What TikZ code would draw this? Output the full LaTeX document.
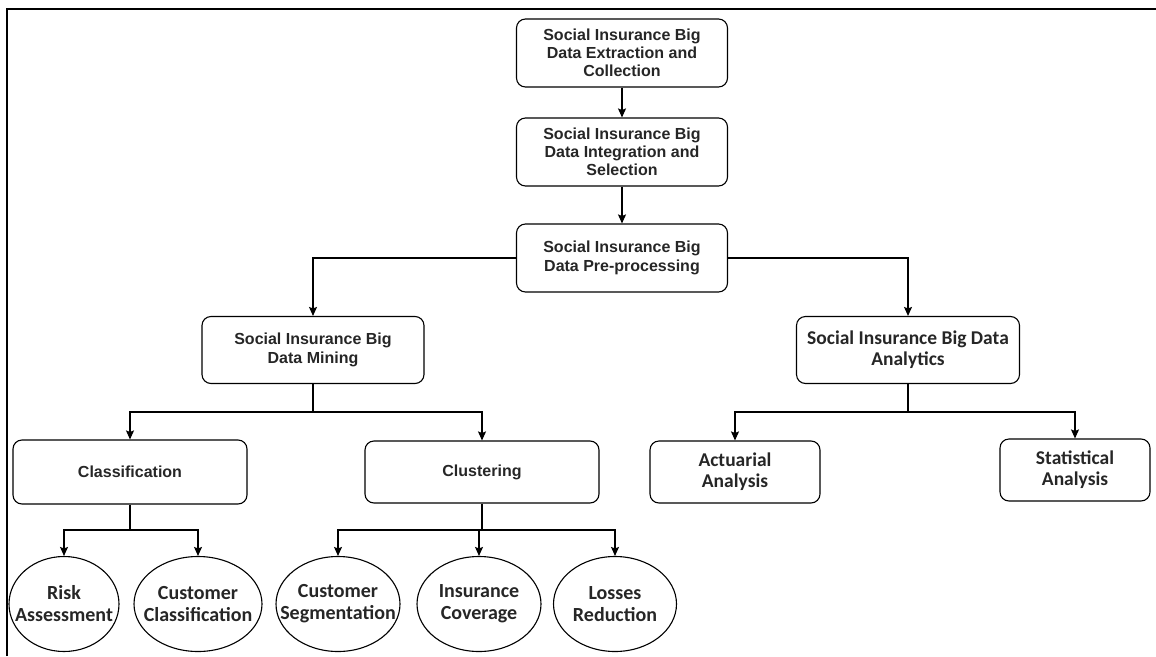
\documentclass[tikz,border=0pt]{standalone}
\usepackage{fontspec}
\setmainfont{Liberation Sans}
\newfontfamily\calfont{Carlito}
\usepackage{tikz}
\usetikzlibrary{arrows.meta,shapes.geometric}

\begin{document}
\begin{tikzpicture}[x=1pt,y=-1pt,
    every node/.style={text=black!85,align=center},
    stage/.style={draw,line width=1.1pt,rounded corners=9pt,minimum height=68pt,
      font=\fontsize{16}{18}\selectfont\bfseries},
    calstage/.style={stage,font=\calfont\fontsize{19.5}{21}\selectfont\bfseries},
    leaf/.style={draw,line width=1.1pt,ellipse,inner xsep=-30pt,inner ysep=-10pt,minimum height=95pt,
      font=\calfont\fontsize{20}{22}\selectfont\bfseries},
    link/.style={line width=1.2pt,->},
    >={Stealth[length=9pt,width=8pt,inset=1.5pt]}]
    \useasboundingbox (0,0) rectangle (1156,656);
    \draw[line width=2.2pt] (7,656) -- (7,9) -- (1156,9);

    \node[stage,minimum width=211pt] (extract) at (622,53) {Social Insurance Big\\Data Extraction and\\Collection};
    \node[stage,minimum width=211pt] (integr) at (622,152) {Social Insurance Big\\Data Integration and\\Selection};
    \node[stage,minimum width=211pt,font=\fontsize{16}{19}\selectfont\bfseries] (prep) at (622,258) {Social Insurance Big\\Data Pre-processing};
    \node[stage,minimum width=222pt,minimum height=67pt,font=\fontsize{16}{19}\selectfont\bfseries] (mining) at (313,350) {Social Insurance Big\\Data Mining};
    \node[calstage,minimum width=223pt,minimum height=67pt] (analyt) at (908,350) {Social Insurance Big Data\\Analytics};
    \node[stage,minimum width=234pt,minimum height=64pt] (classif) at (130,472) {Classification};
    \node[stage,minimum width=234pt,minimum height=62pt] (cluster) at (482,472) {Clustering};
    \node[calstage,minimum width=170pt,minimum height=62pt] (actuar) at (735,472) {Actuarial\\Analysis};
    \node[calstage,minimum width=150pt,minimum height=62pt] (statis) at (1075,470) {Statistical\\Analysis};

    \node[leaf,minimum width=110pt] (risk) at (64,604) {Risk\\Assessment};
    \node[leaf,minimum width=128pt] (custcl) at (198,604) {Customer\\Classification};
    \node[leaf,minimum width=124pt] (segm) at (338,604) {Customer\\Segmentation};
    \node[leaf,minimum width=124pt] (cover) at (479,604) {Insurance\\Coverage};
    \node[leaf,minimum width=123pt] (loss) at (615,604) {Losses\\Reduction};

    \coordinate (mjoin) at (313,412);
    \coordinate (ajoin) at (908,412);
    \coordinate (cljoin) at (130,530);
    \coordinate (cujoin) at (482,530);

    \draw[link] (extract) -- (integr);
    \draw[link] (integr) -- (prep);
    \draw[link] (prep.west) -| (mining.north);
    \draw[link] (prep.east) -| (analyt.north);

    \draw[link] (mining.south) -- (mjoin) -| (classif.north);
    \draw[link] (mjoin) -| (cluster.north);
    \draw[link] (analyt.south) -- (ajoin) -| (actuar.north);
    \draw[link] (ajoin) -| (statis.north);

    \draw[link] (classif.south) -- (cljoin) -| (risk.north);
    \draw[link] (cljoin) -| (custcl.north);
    \draw[link] (cluster.south) -- (cujoin) -| (segm.north);
    \draw[link] (cujoin) -| (cover.north);
    \draw[link] (cujoin) -| (loss.north);
\end{tikzpicture}
\end{document}
